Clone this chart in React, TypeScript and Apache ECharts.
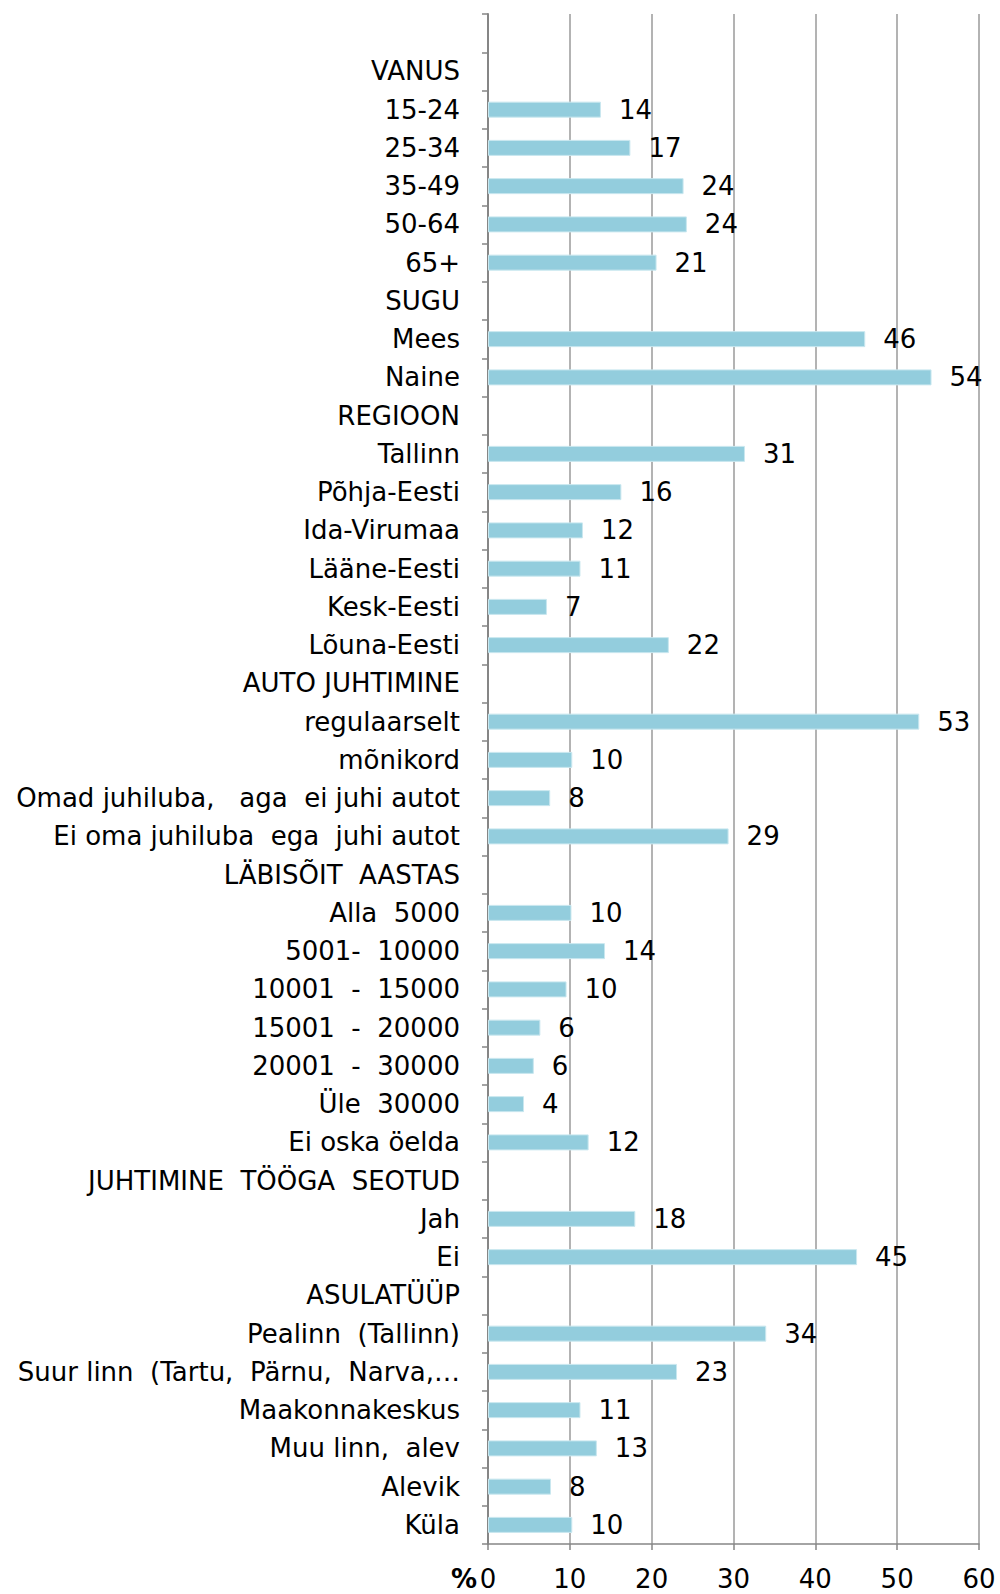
import React, { useEffect, useRef } from "react";
import * as echarts from "echarts";

const categories: string[] = [
  "",
  "VANUS",
  "15-24",
  "25-34",
  "35-49",
  "50-64",
  "65+",
  "SUGU",
  "Mees",
  "Naine",
  "REGIOON",
  "Tallinn",
  "Põhja-Eesti",
  "Ida-Virumaa",
  "Lääne-Eesti",
  "Kesk-Eesti",
  "Lõuna-Eesti",
  "AUTO JUHTIMINE",
  "regulaarselt",
  "mõnikord",
  "Omad juhiluba,   aga  ei juhi autot",
  "Ei oma juhiluba  ega  juhi autot",
  "LÄBISÕIT  AASTAS",
  "Alla  5000",
  "5001-  10000",
  "10001  -  15000",
  "15001  -  20000",
  "20001  -  30000",
  "Üle  30000",
  "Ei oska öelda",
  "JUHTIMINE  TÖÖGA  SEOTUD",
  "Jah",
  "Ei",
  "ASULATÜÜP",
  "Pealinn  (Tallinn)",
  "Suur linn  (Tartu,  Pärnu,  Narva,…",
  "Maakonnakeskus",
  "Muu linn,  alev",
  "Alevik",
  "Küla",
];

const values: (number | null)[] = [
  null,
  null,
  13.8,
  17.4,
  23.9,
  24.3,
  20.6,
  null,
  46.1,
  54.2,
  null,
  31.4,
  16.3,
  11.6,
  11.3,
  7.2,
  22.1,
  null,
  52.7,
  10.3,
  7.6,
  29.4,
  null,
  10.2,
  14.3,
  9.6,
  6.4,
  5.6,
  4.4,
  12.3,
  null,
  18.0,
  45.1,
  null,
  34.0,
  23.1,
  11.3,
  13.3,
  7.7,
  10.3,
];

const xTicks = { min: 0, max: 60, interval: 10 };

const FONT = "DejaVu Sans";
const FS = 26;

export default function App() {
  const ref = useRef<HTMLDivElement>(null);

  useEffect(() => {
    if (!ref.current) return;
    const chart = echarts.init(ref.current, undefined, { renderer: "svg" });
    chart.setOption({
      animation: false,
      backgroundColor: "#ffffff",
      grid: { left: 488, right: 21, top: 14, bottom: 50, containLabel: false },
      xAxis: {
        type: "value",
        min: xTicks.min,
        max: xTicks.max,
        interval: xTicks.interval,
        axisLine: { show: true, lineStyle: { color: "#868686", width: 1.5 } },
        axisTick: { show: true, length: 6, lineStyle: { color: "#868686", width: 1.5 } },
        splitLine: { show: true, lineStyle: { color: "#9a9a9a", width: 1.5 } },
        axisLabel: {
          color: "#000",
          fontFamily: FONT,
          fontSize: FS,
          margin: 22,
        },
      },
      yAxis: {
        type: "category",
        inverse: true,
        data: categories,
        axisLine: { show: true, lineStyle: { color: "#868686", width: 2 } },
        axisTick: { show: true, length: 6, lineStyle: { color: "#868686", width: 1.5 } },
        axisLabel: {
          color: "#000",
          fontFamily: FONT,
          fontSize: FS,
          margin: 28,
          interval: 0,
        },
      },
      graphic: [
        {
          type: "text",
          x: 477,
          y: 1579,
          style: {
            text: "%",
            fontFamily: FONT,
            fontSize: FS,
            fontWeight: "bold",
            fill: "#000",
            align: "right",
            verticalAlign: "middle",
          },
        },
      ],
      series: [
        {
          type: "bar",
          data: values,
          barWidth: 16,
          itemStyle: { color: "#93CDDD", borderColor: "#c9e7ef", borderWidth: 1 },
          label: {
            show: true,
            position: "right",
            distance: 18,
            color: "#000",
            fontFamily: FONT,
            fontSize: FS,
            formatter: (p: any) => (p.value == null ? "" : String(Math.round(p.value))),
          },
        },
      ],
    });
    return () => chart.dispose();
  }, []);

  return (
    <div
      ref={ref}
      style={{ position: "absolute", left: 0, top: 0, width: 1000, height: 1594 }}
    />
  );
}
